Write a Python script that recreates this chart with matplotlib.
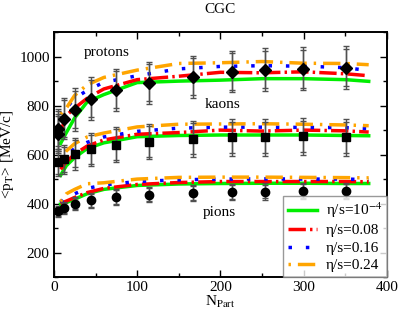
import matplotlib
matplotlib.use('Agg')
import matplotlib.pyplot as plt
from matplotlib.ticker import MultipleLocator

plt.rcParams['font.family'] = ['Liberation Serif', 'DejaVu Serif']
plt.rcParams['mathtext.fontset'] = 'stix'

# data points, N_part and <pT> in MeV/c
npart_p = [5, 5.5, 12, 25, 45, 74, 114, 167, 214, 253, 299, 351]
mpt_p = [706, 686, 747, 784, 829, 865, 894, 918, 939, 947, 951, 955]
err_p_out = [82, 80, 85, 86, 86, 86, 86, 86, 84, 87, 88, 87]
err_p_in = [72, 70, 75, 76, 76, 76, 76, 76, 76, 77, 78, 75]

npart_k = [5, 12, 25, 45, 74, 114, 167, 214, 253, 299, 351]
mpt_k = [569, 580, 604, 621, 641, 653, 665, 670, 670, 674, 670]
err_k_out = [55, 60, 65, 68, 72, 73, 74, 75, 75, 76, 75]
err_k_in = [47, 52, 56, 58, 62, 63, 64, 63, 64, 65, 64]

npart_pi = [5, 12, 25, 45, 74, 114, 167, 214, 253, 299, 351]
mpt_pi = [369, 381, 400, 413, 427, 437, 444, 446, 449, 450, 450]
err_pi_out = [22, 25, 28, 30, 31, 32, 33, 33, 33, 33, 33]
err_pi_in = [18, 21, 24, 26, 27, 28, 28, 28, 28, 28, 28]

# hydro (CGC initial conditions) curves
npart_model = [8, 15, 25, 40, 60, 100, 150, 200, 250, 300, 350, 378]
labels = [r'η/s=10$^{-4}$', 'η/s=0.08', 'η/s=0.16', 'η/s=0.24']

p_curves = [
    [645, 690, 750, 815, 845, 894, 900, 904, 910, 910, 906, 899],
    [690, 760, 790, 830, 868, 906, 920, 936, 934, 938, 930, 922],
    [740, 790, 830, 862, 895, 922, 950, 960, 963, 961, 955, 943],
    [765, 790, 842, 885, 915, 945, 972, 975, 980, 973, 972, 967],
]
k_curves = [
    [515, 555, 588, 625, 648, 673, 678, 680, 680, 680, 678, 677],
    [540, 570, 602, 635, 660, 683, 690, 700, 696, 700, 697, 692],
    [560, 598, 625, 650, 672, 695, 708, 712, 712, 711, 710, 706],
    [580, 615, 645, 672, 688, 713, 724, 725, 726, 724, 721, 718],
]
pi_curves = [
    [398, 404, 418, 440, 458, 474, 480, 482, 483, 483, 482, 482],
    [400, 410, 425, 445, 462, 478, 486, 490, 490, 490, 490, 489],
    [405, 430, 440, 462, 476, 490, 497, 500, 501, 500, 500, 498],
    [408, 440, 458, 481, 485, 500, 507, 508, 508, 507, 506, 505],
]

colors = ['#00ee00', '#ff0000', '#0000ff', '#ffa500']
styles = ['-', (0, (5, 1.2, 0.7, 1.2)), (0, (1, 4)), (7, (5, 2, 0.7, 2))]

fig = plt.figure(figsize=(3.99, 3.12), dpi=100)
ax = fig.add_axes([0.135, 0.112, 0.835, 0.785])

for curves in [p_curves, k_curves, pi_curves]:
    for i in range(4):
        ax.plot(npart_model, curves[i], color=colors[i], ls=styles[i], lw=2.5,
                dash_capstyle='butt', label=labels[i] if curves is p_curves else None)

ecol = '#505050'
for x, y, eo, ei, m, ms in [(npart_p, mpt_p, err_p_out, err_p_in, 'D', 6),
                            (npart_k, mpt_k, err_k_out, err_k_in, 's', 5.5),
                            (npart_pi, mpt_pi, err_pi_out, err_pi_in, 'o', 6)]:
    ax.errorbar(x, y, yerr=eo, fmt='none', ecolor=ecol, elinewidth=1, capsize=2.5, capthick=1)
    ax.errorbar(x, y, yerr=ei, fmt='none', ecolor=ecol, elinewidth=1, capsize=2.5, capthick=1)
    ax.plot(x, y, ls='none', marker=m, ms=ms, color='black', zorder=5)

ax.text(64, 1015, 'protons', fontsize=11, ha='center', va='center')
ax.text(203, 805, 'kaons', fontsize=11, ha='center', va='center')
ax.text(199, 363, 'pions', fontsize=11, ha='center', va='center')

ax.set_xlim(0, 400)
ax.set_ylim(100, 1100)
ax.xaxis.set_major_locator(MultipleLocator(100))
ax.xaxis.set_minor_locator(MultipleLocator(50))
ax.yaxis.set_major_locator(MultipleLocator(200))
ax.yaxis.set_minor_locator(MultipleLocator(100))
ax.tick_params(which='both', direction='in', top=True, right=True, labelsize=11, width=1)
ax.tick_params(which='major', length=5, pad=3)
ax.tick_params(which='minor', length=3)
for s in ax.spines.values():
    s.set_linewidth(1.4)

ax.set_title('CGC', fontsize=11, pad=14)
ax.set_xlabel(r'N$_{\mathrm{Part}}$', fontsize=11, labelpad=0)
ax.set_ylabel(r'<p$_{\mathrm{T}}$> [MeV/c]', fontsize=11)
ax.yaxis.set_label_coords(-0.115, 0.5)

leg = ax.legend(loc='lower right', borderaxespad=0, fontsize=11, fancybox=False,
                handlelength=1.9, labelspacing=0.25, handletextpad=0.6, borderpad=0.3)
leg.get_frame().set_edgecolor('#808080')
leg.get_frame().set_linewidth(1)

fig.savefig('out.png', dpi=100)
